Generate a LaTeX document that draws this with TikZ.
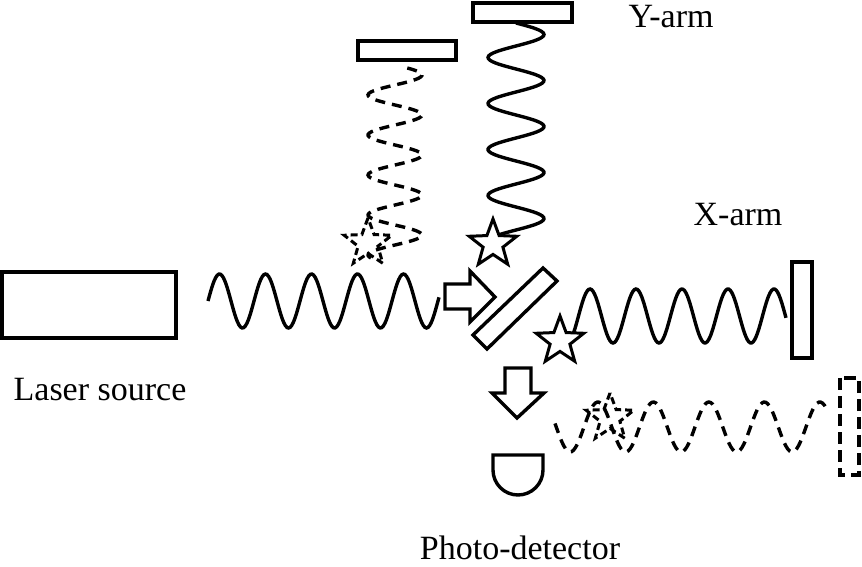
\documentclass[tikz,border=0pt]{standalone}
\usepackage{fontspec}
\setmainfont{Liberation Serif}
\usetikzlibrary{shapes.geometric}
\tikzset{
  optic/.style={draw,line width=3.4pt},
  wave/.style={line width=3.4pt,smooth},
  dwave/.style={wave,dash pattern=on 10pt off 7pt},
  starmark/.style={star,star points=5,star point ratio=2.4,draw,line width=3pt,minimum size=50pt,inner sep=0pt},
  label/.style={font=\fontsize{34}{40}\selectfont}
}
\begin{document}
\begin{tikzpicture}[x=1pt,y=-1pt]
  \useasboundingbox (0,0) rectangle (862,567);

  % laser and its beam
  \draw[optic] (2,272) rectangle (176,338);
  \draw[wave] plot[domain=208:439,samples=150] (\x,{301-27*sin(360/46*(\x-208))});
  \node[label] (laser) at (100,390) {Laser source};

  % beam splitter and hollow arrows
  \draw[optic] (473,335) -- (543,268) -- (557,281) -- (487,349) -- cycle;
  \draw[optic] (445,284) -- (470,284) -- (470,271) -- (495,297) -- (470,322) -- (470,309) -- (445,309) -- cycle;
  \draw[optic] (505,368) -- (531,368) -- (531,393) -- (544,393) -- (517,418) -- (492,393) -- (505,393) -- cycle;

  % Y-arm
  \draw[optic] (473,3) rectangle (572,22);
  \draw[wave] plot[domain=23:236,samples=150] ({516+28*sin(360/46*(\x-23))},\x);
  \node[label] (yarm) at (671,17) {Y-arm};
  \draw[optic] (358,41) rectangle (456,60);
  \draw[dwave] plot[domain=68:258,samples=150] ({395+27*sin(9*(\x-68)+27)},\x);

  % X-arm
  \draw[optic] (792,262) rectangle (812,358);
  \draw[wave] plot[domain=573:786,samples=150] (\x,{316-27*sin(360/46*(\x-578.5))});
  \node[label] (xarm) at (738,215) {X-arm};
  \draw[optic,dash pattern=on 12pt off 6pt] (840,378) rectangle (859,475);
  \draw[dwave] plot[domain=555:828,samples=150] (\x,{427-25*sin(360/55.5*(\x-584))});

  % stars
  \node[starmark,fill=white] (s1) at (493,244) {};
  \node[starmark,fill=white] (s2) at (560,341) {};
  \node[starmark,dash pattern=on 7pt off 4pt] (s3) at (368,243) {};
  \node[starmark,dash pattern=on 7pt off 4pt] (s4) at (610,418) {};

  % photo-detector
  \draw[optic] (493,470) -- (493,455) -- (543,455) -- (543,470) arc[start angle=0,end angle=180,radius=25];
  \node[label] (pd) at (520,548) {Photo-detector};
\end{tikzpicture}
\end{document}
